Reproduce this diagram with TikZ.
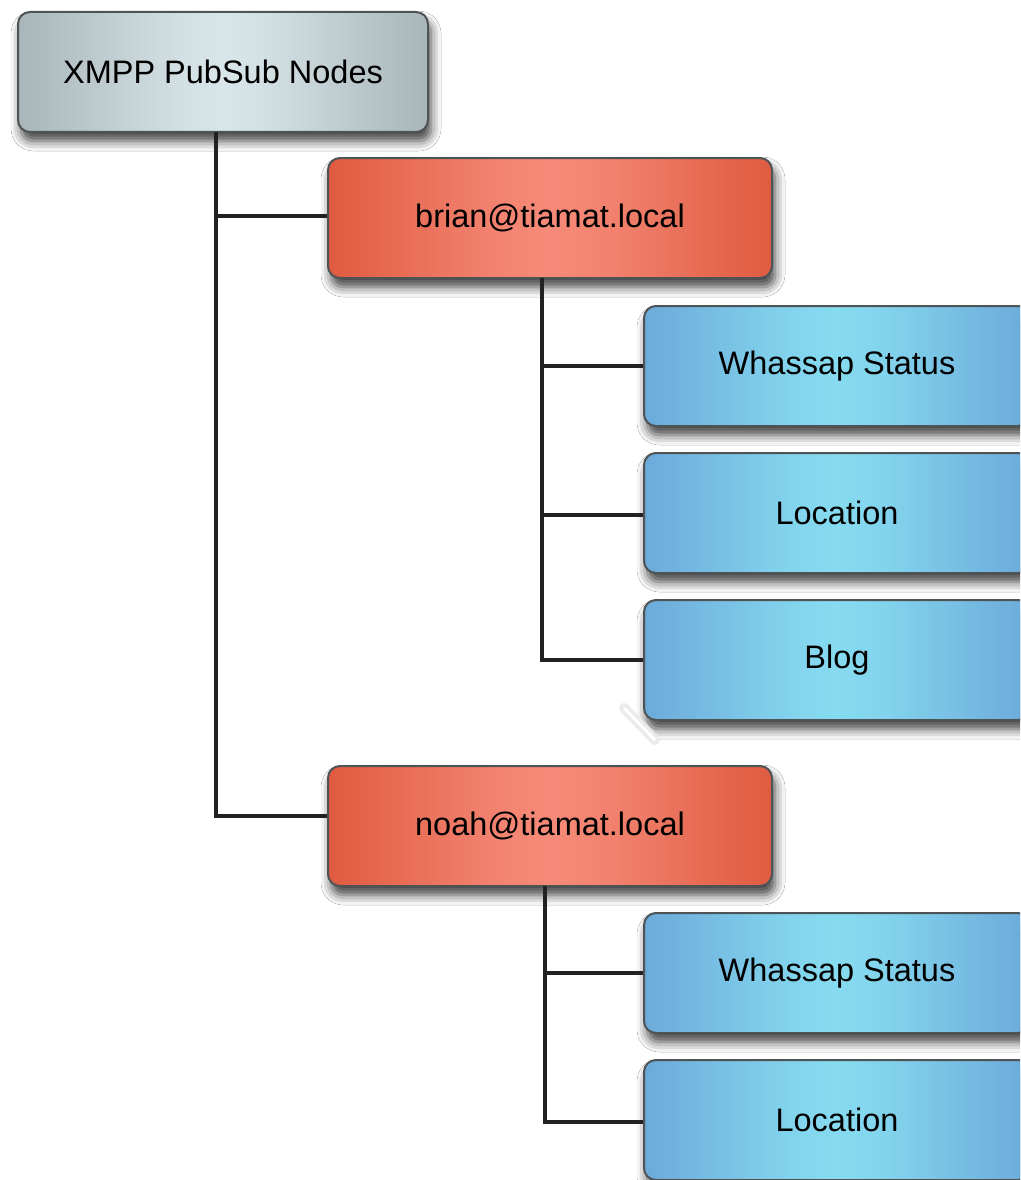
\documentclass[tikz,border=0pt]{standalone}
\usepackage{fontspec}
\setmainfont{Liberation Sans}
\usetikzlibrary{shadows.blur}
\definecolor{rimcol}{HTML}{4E5356}
\definecolor{linkcol}{HTML}{222222}
\definecolor{greyin}{HTML}{D8E5E9}
\definecolor{greyout}{HTML}{A8B5B9}
\definecolor{redin}{HTML}{F68A78}
\definecolor{redout}{HTML}{DF5B40}
\definecolor{bluein}{HTML}{86DBF0}
\definecolor{blueout}{HTML}{6CAADA}
% soft horizontal glow: #2 at the centre, #3 at both sides
\newcommand\makeglow[3]{%
  \pgfdeclarehorizontalshading{#1}{100bp}{%
    color(0bp)=(#3); color(25bp)=(#3);
    color(30bp)=(#2!22!#3); color(35bp)=(#2!45!#3);
    color(40bp)=(#2!68!#3); color(45bp)=(#2!88!#3);
    color(50bp)=(#2);
    color(55bp)=(#2!88!#3); color(60bp)=(#2!68!#3);
    color(65bp)=(#2!45!#3); color(70bp)=(#2!22!#3);
    color(75bp)=(#3); color(100bp)=(#3)}}
\makeglow{greyglow}{greyin}{greyout}
\makeglow{redglow}{redin}{redout}
\makeglow{blueglow}{bluein}{blueout}
\tikzset{
  box/.style={draw=rimcol, line width=2pt, rounded corners=12pt,
    minimum height=120pt, font=\fontsize{32.5}{38}\selectfont, text=black,
    blur shadow={shadow xshift=3pt, shadow yshift=-9pt,
      shadow blur radius=10pt, shadow opacity=75}},
  rootbox/.style={box, minimum width=410pt, shade, shading=greyglow},
  userbox/.style={box, minimum width=444pt, shade, shading=redglow},
  leafbox/.style={box, minimum width=386pt, shade, shading=blueglow},
  conn/.style={draw=linkcol, line width=4.5pt}
}
\begin{document}
\begin{tikzpicture}[x=1pt,y=-1pt]
  \useasboundingbox (0,0) rectangle (1020,1180);
  \clip (0,0) rectangle (1020,1180);
  \fill[white] (0,0) rectangle (1020,1180);

  % branch points of the tree
  \coordinate (rootstem) at (216,132);
  \coordinate (brianstem) at (542,278);
  \coordinate (noahstem) at (545,886);

  % boxes
  \node[rootbox] (root) at (223,72) {XMPP PubSub Nodes};
  \node[userbox] (brian) at (550,218) {brian@tiamat.local};
  \node[leafbox] (bws) at (837,366) {Whassap Status};
  \node[leafbox] (bloc) at (837,513) {Location};
  \node[leafbox] (bblog) at (837,660) {Blog};
  \node[userbox] (noah) at (550,826) {noah@tiamat.local};
  \node[leafbox] (nws) at (837,973) {Whassap Status};
  \node[leafbox] (nloc) at (837,1120) {Location};

  % connectors
  \draw[conn] (rootstem) |- ([yshift=2pt]brian.west);
  \draw[conn] (rootstem) |- ([yshift=10pt]noah.west);
  \draw[conn] (brianstem) |- (bws.west);
  \draw[conn] (brianstem) |- ([yshift=-2pt]bloc.west);
  \draw[conn] (brianstem) |- (bblog.west);
  \draw[conn] (noahstem) |- (nws.west);
  \draw[conn] (noahstem) |- ([yshift=-2pt]nloc.west);

  % small white stroke below the Blog box
  \draw[black!8, line width=10pt, line cap=round] (624,708) -- (655,740);
  \draw[white, line width=3pt] (624,708) -- (655,740);
\end{tikzpicture}
\end{document}
